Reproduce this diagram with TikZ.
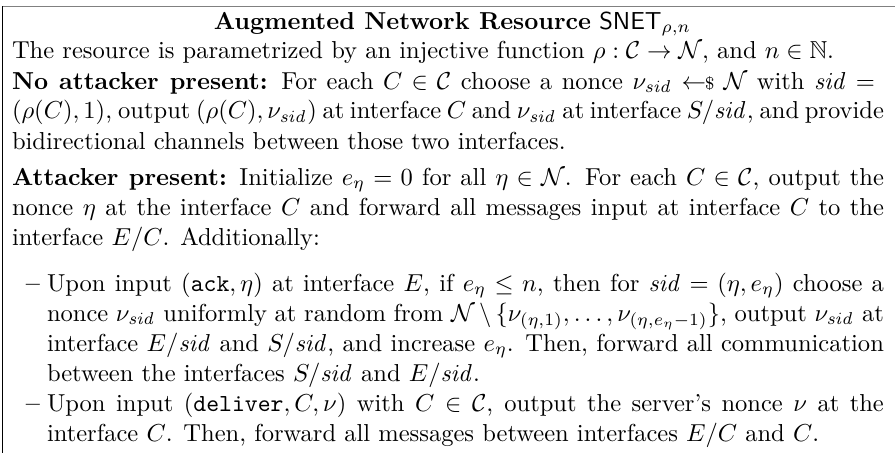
\documentclass[tikz,border=0pt]{standalone}
\usepackage{amsmath,amssymb}
\definecolor{rulegray}{gray}{0.5}
% widths of a full text line and of an item line
\newlength\fullw \setlength\fullw{355.6pt}
\newlength\itemw \setlength\itemw{341.3pt}
\newcommand\jfull[1]{\makebox[\fullw][s]{#1}}
\newcommand\jitem[1]{\makebox[\itemw][s]{#1}}
\newcommand\sidv{\mathit{sid}}
\newcommand\smpl{\mathrel{\leftarrow\!\!{\scriptstyle\$}}}
\tikzset{
  txt/.style={anchor=base west, inner sep=0pt, outer sep=0pt, font=\normalsize},
  itemmark/.style={anchor=base, inner sep=0pt, outer sep=0pt, font=\bfseries},
  toprule/.style={draw=rulegray, line width=0.8pt},
  siderule/.style={draw=black, line width=0.45pt}
}
\begin{document}
\begin{tikzpicture}[x=1pt,y=1pt]
\useasboundingbox (0,0) rectangle (365,-184.75);
% frame: top rule and left rule
\coordinate (tl) at (1.02,-2.65);
\coordinate (tr) at (365,-2.65);
\coordinate (bl) at (1.02,-184.75);
\draw[toprule] (tl) -- (tr);
\draw[siderule] (tl) -- (bl);
% title
\node[anchor=base, inner sep=0pt] (title) at (184.5,-11.83)
  {\textbf{Augmented Network Resource} $\mathsf{SNET}_{\rho,n}$};
% parameters
\node[txt] (l2) at (4.9,-24.06)
  {The resource is parametrized by an injective function $\rho:\mathcal{C}\to\mathcal{N}$, and $n\in\mathbb{N}$.};
% no attacker
\node[txt] (l3) at (4.9,-36.3)
  {\jfull{\textbf{No attacker present:} For each $C\in\mathcal{C}$ choose a nonce $\nu_{\sidv}\smpl\mathcal{N}$ with $\sidv={}$}};
\node[txt] (l4) at (4.9,-48.53)
  {\jfull{$(\rho(C),1)$, output $(\rho(C),\nu_{\sidv})$ at interface $C$ and $\nu_{\sidv}$ at interface $S/\sidv$, and provide}};
\node[txt] (l5) at (4.9,-60.77)
  {bidirectional channels between those two interfaces.};
% attacker
\node[txt] (l6) at (4.9,-75.45)
  {\jfull{\textbf{Attacker present:} Initialize $e_\eta=0$ for all $\eta\in\mathcal{N}$. For each $C\in\mathcal{C}$, output the}};
\node[txt] (l7) at (4.9,-87.69)
  {\jfull{nonce $\eta$ at the interface $C$ and forward all messages input at interface $C$ to the}};
\node[txt] (l8) at (4.9,-99.92)
  {interface $E/C$. Additionally:};
% first item
\node[itemmark] (d1) at (13.4,-118.68) {--};
\node[txt] (l9) at (19.17,-118.68)
  {\jitem{Upon input $(\texttt{ack},\eta)$ at interface $E$, if $e_\eta\le n$, then for $\sidv=(\eta,e_\eta)$ choose a}};
\node[txt] (l10) at (19.17,-130.92)
  {\jitem{nonce $\nu_{\sidv}$ uniformly at random from $\mathcal{N}\setminus\{\nu_{(\eta,1)},\dots,\nu_{(\eta,e_\eta-1)}\}$, output $\nu_{\sidv}$ at}};
\node[txt] (l11) at (19.17,-143.15)
  {\jitem{interface $E/\sidv$ and $S/\sidv$, and increase $e_\eta$. Then, forward all communication}};
\node[txt] (l12) at (19.17,-155.39)
  {between the interfaces $S/\sidv$ and $E/\sidv$.};
% second item
\node[itemmark] (d2) at (13.4,-167.62) {--};
\node[txt] (l13) at (19.17,-167.62)
  {\jitem{Upon input $(\texttt{deliver},C,\nu)$ with $C\in\mathcal{C}$, output the server's nonce $\nu$ at the}};
\node[txt] (l14) at (19.17,-179.86)
  {interface $C$. Then, forward all messages between interfaces $E/C$ and $C$.};
\end{tikzpicture}
\end{document}
